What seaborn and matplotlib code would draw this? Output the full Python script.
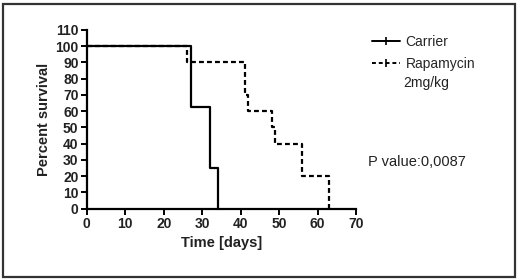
import matplotlib
matplotlib.use("Agg")
import matplotlib.pyplot as plt
import seaborn as sns
import pandas as pd
from matplotlib.lines import Line2D
from matplotlib.patches import Rectangle

carrier_time = [0, 27, 32, 34]
carrier_surv = [100, 62.5, 25, 0]
rapa_time = [0, 26, 41, 42, 48, 49, 56, 63]
rapa_surv = [100, 90, 70, 60, 50, 40, 20, 0]
groups = ["Carrier", "Rapamycin"]
group2_extra = "2mg/kg"
x_ticks = [0, 10, 20, 30, 40, 50, 60, 70]
y_ticks = [0, 10, 20, 30, 40, 50, 60, 70, 80, 90, 100, 110]

df = pd.concat([
    pd.DataFrame({"Time": carrier_time, "Survival": carrier_surv, "Group": groups[0]}),
    pd.DataFrame({"Time": rapa_time, "Survival": rapa_surv, "Group": groups[1]}),
])

sns.set_theme(style="ticks")
plt.rcParams['font.family'] = ['Liberation Sans', 'DejaVu Sans']

fig = plt.figure(figsize=(5.2, 2.8), dpi=100)
ax = fig.add_axes([0.167, 0.255, 0.518, 0.638])

sns.lineplot(data=df, x="Time", y="Survival", hue="Group", style="Group",
             palette=["black", "black"], dashes=["", (2.2, 1.4)],
             estimator=None, sort=False, drawstyle="steps-post",
             linewidth=1.6, legend=False, ax=ax)

ax.set_xlim(0, 70)
ax.set_ylim(0, 110)
ax.set_xticks(x_ticks)
ax.set_yticks(y_ticks)
ax.set_xticklabels([str(v) for v in x_ticks], fontweight="bold", fontsize=10, color="#222222")
ax.set_yticklabels([str(v) for v in y_ticks], fontweight="bold", fontsize=10, color="#222222")
ax.set_xlabel("Time [days]", fontweight="bold", fontsize=10.5, color="#222222", labelpad=4)
ax.set_ylabel("Percent survival", fontweight="bold", fontsize=10.5, color="#222222", labelpad=3)
for s in ["top", "right"]:
    ax.spines[s].set_visible(False)
for s in ["left", "bottom"]:
    ax.spines[s].set_linewidth(1.6)
    ax.spines[s].set_color("black")
ax.tick_params(axis="both", length=4, width=1.4, pad=2, color="black")
for ln in ax.lines:
    ln.set_clip_on(False)

handles = [
    Line2D([0], [0], color="black", lw=1.4, marker="|", markersize=6, markeredgewidth=1.2),
    Line2D([0], [0], color="black", lw=1.4, ls=(0, (2, 1.5)), marker="|", markersize=6, markeredgewidth=1.2),
]
fig.legend(handles, groups, loc="upper left", bbox_to_anchor=(0.716, 0.876),
           frameon=False, fontsize=10, handlelength=2.0, handletextpad=0.4,
           labelspacing=0.62, borderaxespad=0, borderpad=0)
fig.text(0.775, 0.702, group2_extra, fontsize=10, color="#222222", va="center")

fig.text(0.707, 0.421, "P value:0,0087", fontsize=10.5, color="#222222", va="center")

fig.patches.append(Rectangle((0.006, 0.012), 0.984, 0.975, transform=fig.transFigure,
                             fill=False, edgecolor="#333333", linewidth=1.6))

fig.savefig("out.png", dpi=100)
